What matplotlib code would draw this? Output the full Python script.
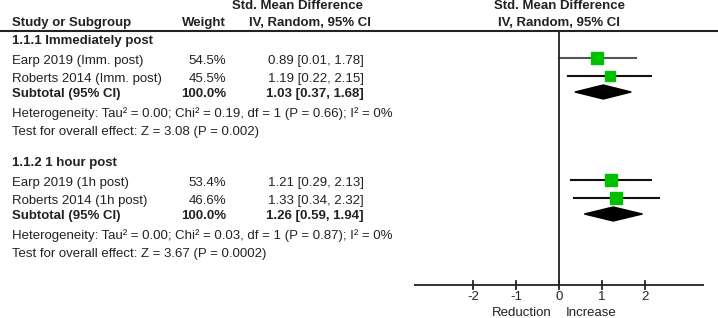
import matplotlib.pyplot as plt
from matplotlib.patches import Polygon
import numpy as np

plt.rcParams['font.family'] = ['Liberation Sans', 'DejaVu Sans']

# Dati dello studio
gruppi = ["1.1.1 Immediately post", "1.1.2 1 hour post"]
studi = [["Earp 2019 (Imm. post)", "Roberts 2014 (Imm. post)"],
         ["Earp 2019 (1h post)", "Roberts 2014 (1h post)"]]
pesi = [[54.5, 45.5], [53.4, 46.6]]
smd = [[0.89, 1.19], [1.21, 1.33]]
ci_lo = [[0.01, 0.22], [0.29, 0.34]]
ci_hi = [[1.78, 2.15], [2.13, 2.32]]
sub_smd = [1.03, 1.26]
sub_lo = [0.37, 0.59]
sub_hi = [1.68, 1.94]
eterogeneita = ["Heterogeneity: Tau² = 0.00; Chi² = 0.19, df = 1 (P = 0.66); I² = 0%",
                "Heterogeneity: Tau² = 0.00; Chi² = 0.03, df = 1 (P = 0.87); I² = 0%"]
effetto = ["Test for overall effect: Z = 3.08 (P = 0.002)",
           "Test for overall effect: Z = 3.67 (P = 0.0002)"]
tick_vals = [-2, -1, 0, 1, 2]

# Layout in pixel
W, H = 718, 318
fs = 9.5
col_txt = '#222'
fig = plt.figure(figsize=(W / 100, H / 100), dpi=100)
ax_t = fig.add_axes([0, 0, 1, 1])
ax_t.set_xlim(0, W)
ax_t.set_ylim(H, 0)
ax_t.axis('off')

px0, px1, pz = 414, 704, 559
unit = 43.0
ax_f = fig.add_axes([px0 / W, 0, (px1 - px0) / W, 1])
ax_f.set_xlim((px0 - pz) / unit, (px1 - pz) / unit)
ax_f.set_ylim(H, 0)
ax_f.axis('off')
ax_f.patch.set_alpha(0)

# Intestazioni
ax_t.text(297, 6, "Std. Mean Difference", fontsize=fs, fontweight='bold', ha='center', va='center', color=col_txt)
ax_t.text(12, 23, "Study or Subgroup", fontsize=fs, fontweight='bold', ha='left', va='center', color=col_txt)
ax_t.text(226, 23, "Weight", fontsize=fs, fontweight='bold', ha='right', va='center', color=col_txt)
ax_t.text(310, 23, "IV, Random, 95% CI", fontsize=fs, fontweight='bold', ha='center', va='center', color=col_txt)
ax_f.text(0, 6, "Std. Mean Difference", fontsize=fs, fontweight='bold', ha='center', va='center', color=col_txt)
ax_f.text(0, 23, "IV, Random, 95% CI", fontsize=fs, fontweight='bold', ha='center', va='center', color=col_txt)
ax_t.plot([0, W], [31, 31], color=col_txt, lw=1.5)

# Righe
y_gruppo = [41, 163]
for g in range(2):
    y0 = y_gruppo[g]
    ax_t.text(12, y0, gruppi[g], fontsize=fs, fontweight='bold', ha='left', va='center', color=col_txt)
    righe = [y0 + 20, y0 + 38]
    for i in range(2):
        y = righe[i]
        ax_t.text(12, y, studi[g][i], fontsize=fs, ha='left', va='center', color=col_txt)
        ax_t.text(226, y, f"{pesi[g][i]:.1f}%", fontsize=fs, ha='right', va='center', color=col_txt)
        ax_t.text(364, y, f"{smd[g][i]:.2f} [{ci_lo[g][i]:.2f}, {ci_hi[g][i]:.2f}]",
                  fontsize=fs, ha='right', va='center', color=col_txt)
        ym = y - 3
        col = '#555' if i == 0 and g == 0 else '#111'
        ax_f.plot([ci_lo[g][i], ci_hi[g][i]], [ym, ym], color=col, lw=1.5, zorder=2)
        ax_f.plot(smd[g][i], ym, marker='s', color='#00c000', mec='#00c000',
                  markersize=np.sqrt(pesi[g][i]) * 1.17, zorder=3)
    ys = y0 + 53
    ax_t.text(12, ys, "Subtotal (95% CI)", fontsize=fs, fontweight='bold', ha='left', va='center', color=col_txt)
    ax_t.text(226, ys, "100.0%", fontsize=fs, fontweight='bold', ha='right', va='center', color=col_txt)
    ax_t.text(364, ys, f"{sub_smd[g]:.2f} [{sub_lo[g]:.2f}, {sub_hi[g]:.2f}]",
              fontsize=fs, fontweight='bold', ha='right', va='center', color=col_txt)
    yd = ys - 2
    dia = Polygon([(sub_lo[g], yd), (sub_smd[g], yd - 7), (sub_hi[g], yd), (sub_smd[g], yd + 7)],
                  closed=True, color='black', zorder=3)
    ax_f.add_patch(dia)
    ax_t.text(12, ys + 20, eterogeneita[g], fontsize=fs, ha='left', va='center', color=col_txt)
    ax_t.text(12, ys + 38, effetto[g], fontsize=fs, ha='left', va='center', color=col_txt)

# Asse del forest plot
y_ax = 285
ax_f.plot([0, 0], [31, y_ax], color=col_txt, lw=1.3)
ax_f.plot(ax_f.get_xlim(), [y_ax, y_ax], color=col_txt, lw=1.3)
for t in tick_vals:
    ax_f.plot([t, t], [y_ax - 4, y_ax + 4], color=col_txt, lw=1.3)
    ax_f.text(t, 297, f"{t}", fontsize=fs, ha='center', va='center', color=col_txt)
ax_f.text(-0.16, 313, "Reduction", fontsize=fs, ha='right', va='center', color=col_txt)
ax_f.text(0.16, 313, "Increase", fontsize=fs, ha='left', va='center', color=col_txt)

plt.savefig('out.png', dpi=100)
plt.close()
